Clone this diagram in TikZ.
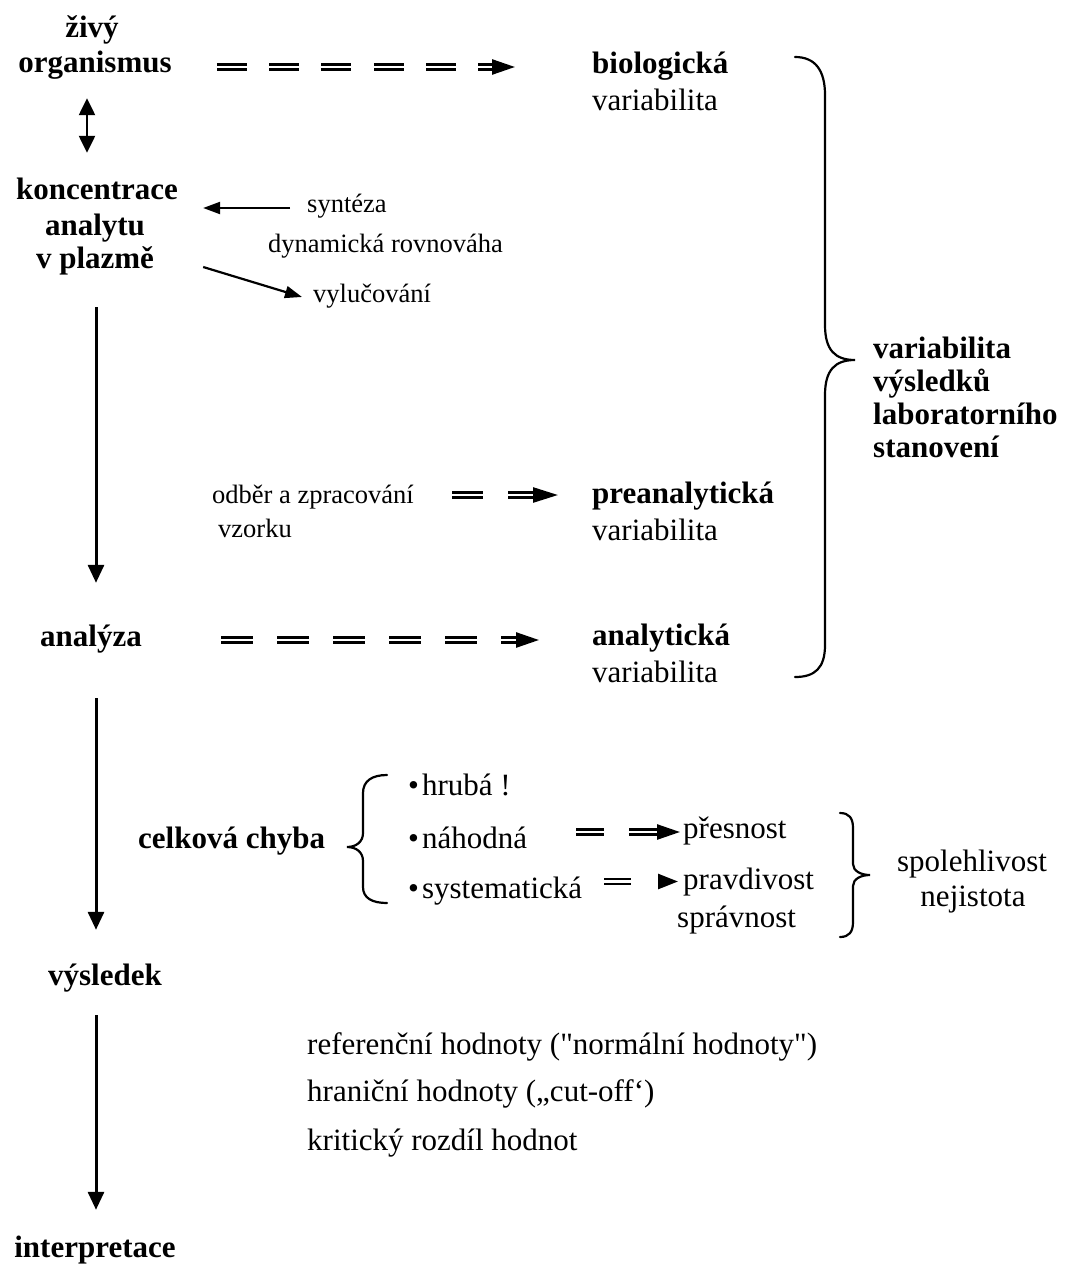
\documentclass[tikz,border=0pt]{standalone}
\usepackage{fontspec}
\setmainfont{Liberation Serif}[Ligatures=TeXOff]
\usetikzlibrary{arrows.meta}
\begin{document}
\begin{tikzpicture}[x=1pt,y=-1pt,
  txt/.style={inner sep=0pt,text height=22pt,text depth=7pt,font=\fontsize{31pt}{36pt}\selectfont},
  btxt/.style={txt,font=\fontsize{31pt}{36pt}\selectfont\bfseries},
  stxt/.style={inner sep=0pt,text height=19pt,text depth=6pt,font=\fontsize{26.5pt}{30pt}\selectfont},
  vline/.style={line width=3pt,-{Triangle[length=18pt,width=16pt]}},
  dvline/.style={line width=2.4pt,{Triangle[length=17pt,width=16pt]}-{Triangle[length=17pt,width=16pt]}},
  thinarrow/.style={line width=2.2pt,-{Triangle[length=17pt,width=12pt]}},
  dbl/.style={line width=2.6pt,double,double distance=2.2pt,-{Triangle[length=23pt,width=15pt]}},
  brace/.style={line width=2.2pt,line cap=round}
]
\useasboundingbox (0,0) rectangle (1067,1269);

% left column
\node[btxt,anchor=base] (ziv) at (92,37) {živý};
\node[btxt,anchor=base] (org) at (95,72) {organismus};
\node[btxt,anchor=base] (konc) at (97,199) {koncentrace};
\node[btxt,anchor=base] (anal) at (95,235) {analytu};
\node[btxt,anchor=base] (plaz) at (95,268) {v plazmě};
\node[btxt,anchor=base] (analyza) at (91,646) {analýza};
\node[btxt,anchor=base] (vysl) at (105,985) {výsledek};
\node[btxt,anchor=base] (interp) at (95,1257) {interpretace};

% right column
\node[btxt,anchor=base west] (bio) at (592,73) {biologická};
\node[txt,anchor=base west] (var1) at (592,110) {variabilita};
\node[btxt,anchor=base west] (pre) at (592,503) {preanalytická};
\node[txt,anchor=base west] (var2) at (592,540) {variabilita};
\node[btxt,anchor=base west] (ana) at (592,645) {analytická};
\node[txt,anchor=base west] (var3) at (592,682) {variabilita};

\node[btxt,anchor=base west] (vr1) at (873,358) {variabilita};
\node[btxt,anchor=base west] (vr2) at (873,391) {výsledků};
\node[btxt,anchor=base west] (vr3) at (873,424) {laboratorního};
\node[btxt,anchor=base west] (vr4) at (873,457) {stanovení};

% small texts
\node[stxt,anchor=base west] (synt) at (307,212) {syntéza};
\node[stxt,anchor=base west] (dyn) at (268,252) {dynamická rovnováha};
\node[stxt,anchor=base west] (vyl) at (313,302) {vylučování};
\node[stxt,anchor=base west] (odber) at (212,503) {odběr a zpracování};
\node[stxt,anchor=base west] (vzorku) at (218,537) {vzorku};

% error block
\node[btxt,anchor=base west] (celk) at (138,848) {celková chyba};
\node[txt,anchor=base west] (hrub) at (408,795) {•\kern3pt hrubá !};
\node[txt,anchor=base west] (nah) at (408,848) {•\kern3pt náhodná};
\node[txt,anchor=base west] (syst) at (408,898) {•\kern3pt systematická};
\node[txt,anchor=base west] (pres) at (683,838) {přesnost};
\node[txt,anchor=base west] (prav) at (683,889) {pravdivost};
\node[txt,anchor=base west] (sprav) at (677,927) {správnost};
\node[txt,anchor=base] (spol) at (972,871) {spolehlivost};
\node[txt,anchor=base] (nej) at (973,906) {nejistota};

% bottom texts
\node[txt,anchor=base west] (ref) at (307,1054) {referenční hodnoty ("normální hodnoty")};
\node[txt,anchor=base west] (hran) at (307,1101) {hraniční hodnoty („cut-off‘)};
\node[txt,anchor=base west] (krit) at (307,1150) {kritický rozdíl hodnot};

% vertical arrows
\draw[dvline,shorten <=19pt,shorten >=24pt] ([xshift=-8pt]org.south) -- ([xshift=-10pt]konc.north);
\draw[vline,shorten <=32pt,shorten >=41pt] ([xshift=1pt]plaz.south) -- ([xshift=5pt]analyza.north);
\draw[vline,shorten <=45pt,shorten >=33pt] ([xshift=5pt]analyza.south) -- ([xshift=-9pt]vysl.north);
\draw[vline,shorten <=23pt,shorten >=25pt] ([xshift=-9pt]vysl.south) -- ([xshift=1pt]interp.north);

% small arrows
\draw[thinarrow,shorten <=17pt,shorten >=25pt] ([yshift=-2.5pt]synt.west) -- ([yshift=-2.5pt]synt.west -| konc.east);
\draw[thinarrow] ([shift={(49pt,-6.5pt)}]plaz.east) -- ([shift={(-11pt,-1.5pt)}]vyl.west);

% dashed double arrows
\draw[dbl,dash pattern=on 30pt off 22.3pt,shorten <=45pt,shorten >=77pt] ([yshift=-2.5pt]org.east) -- ([yshift=-2.5pt]org.east -| bio.west);
\draw[dbl,dash pattern=on 31pt off 25pt,shorten <=38.5pt,shorten >=34pt,-{Triangle[length=25pt,width=15pt]}] ([yshift=1.5pt]odber.east) -- ([yshift=1.5pt]odber.east -| pre.west);
\draw[dbl,dash pattern=on 32pt off 24pt,shorten <=79pt,shorten >=53pt] ([yshift=-1.5pt]analyza.east) -- ([yshift=-1.5pt]analyza.east -| ana.west);
\draw[dbl,dash pattern=on 28pt off 25pt,shorten <=49pt,shorten >=3pt] ([yshift=-1.5pt]pres.west -| nah.east) -- ([yshift=-1.5pt]pres.west);
\draw[dbl,dash pattern=on 27pt off 28pt,shorten <=22pt,shorten >=5pt,-{Triangle[length=20pt,width=15pt]}] (prav.west -| syst.east) -- (prav.west);

% braces
\draw[brace] (795,57) .. controls (815,57) and (825,70) .. (825,95) -- (825,325)
  .. controls (825,350) and (835,360) .. (855,360)
  .. controls (835,360) and (825,370) .. (825,395) -- (825,645)
  .. controls (825,668) and (815,677) .. (795,677);
\draw[brace] (387,775) .. controls (372,775) and (363,781) .. (363,793) -- (363,833)
  .. controls (363,842) and (356,847) .. (347,847)
  .. controls (356,847) and (363,852) .. (363,861) -- (363,887)
  .. controls (363,898) and (372,903) .. (387,903);
\draw[brace] (840,813) .. controls (849,813) and (853,818) .. (853,828) -- (853,864)
  .. controls (853,871) and (861,875) .. (870,875)
  .. controls (861,875) and (853,879) .. (853,886) -- (853,922)
  .. controls (853,932) and (849,937) .. (840,937);
\end{tikzpicture}
\end{document}
